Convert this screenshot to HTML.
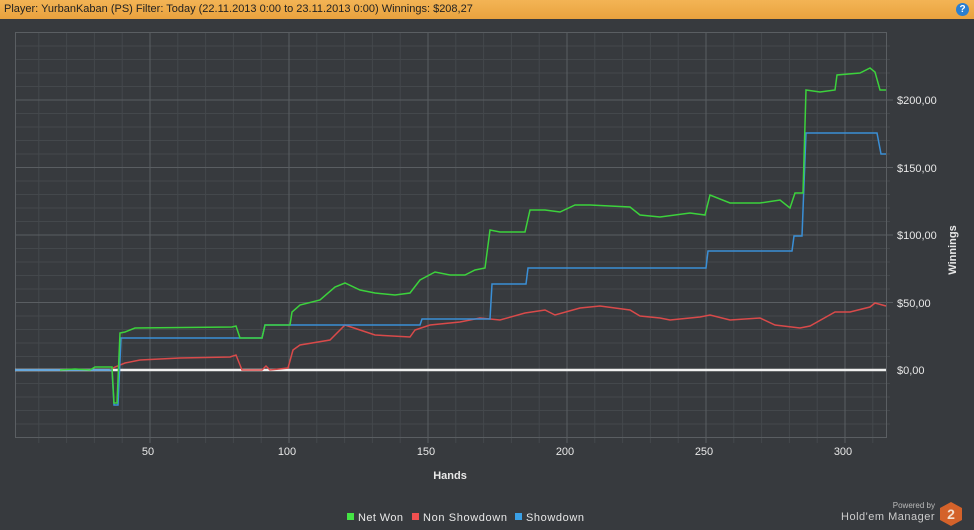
<!DOCTYPE html>
<html><head><meta charset="utf-8"><style>
body{margin:0;width:974px;height:530px;background:#373a3e;overflow:hidden;font-family:"Liberation Sans",sans-serif}
.bar{position:absolute;left:0;top:0;width:974px;height:19px;background:linear-gradient(#f3b455,#e9a23e);color:#222;font-size:11px;line-height:18px;padding-left:4px;box-sizing:border-box}
.help{position:absolute;right:5px;top:3px;width:13px;height:13px;border-radius:50%;background:#2a7fd0;color:#fff;font-size:10px;font-weight:bold;text-align:center;line-height:13px}
</style></head><body>
<div class="bar">Player: YurbanKaban (PS) Filter: Today (22.11.2013 0:00 to 23.11.2013 0:00) Winnings: $208,27</div>
<div class="help">?</div>
<svg width="974" height="530" style="position:absolute;left:0;top:0" font-family="Liberation Sans, sans-serif">
<g stroke="#44484c" stroke-width="1">
<path d="M38.8 33V443M66.6 33V443M94.4 33V443M122.2 33V443M177.8 33V443M205.6 33V443M233.4 33V443M261.2 33V443M316.8 33V443M344.6 33V443M372.4 33V443M400.2 33V443M455.8 33V443M483.6 33V443M511.4 33V443M539.2 33V443M594.8 33V443M622.6 33V443M650.4 33V443M678.2 33V443M733.8 33V443M761.6 33V443M789.4 33V443M817.2 33V443M872.8 33V443"/>
<path d="M15 424H890M15 410.5H890M15 397H890M15 383.5H890M15 356.5H890M15 343H890M15 329.5H890M15 316H890M15 289H890M15 275.5H890M15 262H890M15 248.5H890M15 221.5H890M15 208H890M15 194.5H890M15 181H890M15 154H890M15 140.5H890M15 127H890M15 113.5H890M15 86.5H890M15 73H890M15 59.5H890M15 46H890"/>
</g>
<g stroke="#5a5e62" stroke-width="1">
<path d="M150 33V443M289 33V443M428 33V443M567 33V443M706 33V443M845 33V443"/>
<path d="M15 302.5H893M15 235H893M15 167.5H893M15 100H893"/>
<rect x="15.5" y="32.5" width="871" height="405" fill="none"/>
</g>
<line x1="15" y1="370" x2="886" y2="370" stroke="#f0f0f0" stroke-width="2.5"/>
<polyline fill="none" stroke="#d94a4a" stroke-width="1.5" points="110,370 115,367 125,363 140,360 180,358 230,357 236,355 242,370 262,370 266,366 270,370 288,368 293,350 300,345 330,340 345,325 360,330 375,335 410,337 415,330 430,325 460,322 480,318 500,320 525,313 545,310 555,315 580,308 600,306 630,310 640,316 660,318 670,320 700,317 710,315 730,320 760,318 775,325 800,328 810,326 835,312 850,312 870,307 875,303 886,306"/>
<polyline fill="none" stroke="#3a8fd6" stroke-width="1.5" points="15,370 112,370 114,405 118,405 121,338 232,338 262,338 265,325 420,325 422,319 490,319 492,284 526,284 528,268 706,268 708,251 792,251 794,236 802,236 806,133 877,133 881,154 886,154"/>
<polyline fill="none" stroke="#3cd23c" stroke-width="1.5" points="60,370 75,369 90,370 95,367 112,367 114,403 117,403 120,333 125,332 135,328 232,327 236,326 240,338 262,338 265,325 290,325 292,312 300,305 320,300 335,287 345,283 360,290 375,293 395,295 410,293 420,280 435,272 450,275 465,275 475,270 485,268 490,230 500,232 525,232 530,210 545,210 560,212 575,205 590,205 630,207 640,215 660,217 690,213 705,215 710,195 730,203 760,203 780,200 790,208 795,193 803,193 806,90 820,92 835,90 837,75 860,73 870,68 875,72 880,90 886,90"/>
<g fill="#e8e8e8" font-size="11">
<text x="148" y="455" text-anchor="middle">50</text><text x="287" y="455" text-anchor="middle">100</text><text x="426" y="455" text-anchor="middle">150</text><text x="565" y="455" text-anchor="middle">200</text><text x="704" y="455" text-anchor="middle">250</text><text x="843" y="455" text-anchor="middle">300</text>
<text x="897" y="104">$200,00</text><text x="897" y="172">$150,00</text><text x="897" y="239">$100,00</text><text x="897" y="307">$50,00</text><text x="897" y="374">$0,00</text>
<text x="450" y="479" text-anchor="middle" font-weight="bold">Hands</text>
<text transform="translate(956,250) rotate(-90)" text-anchor="middle" font-weight="bold">Winnings</text>
<text x="358" y="521" textLength="45">Net Won</text><text x="423" y="521" textLength="84">Non Showdown</text><text x="526" y="521" textLength="58">Showdown</text>
</g>
<rect x="347" y="513" width="7" height="7" fill="#44e444"/><rect x="412" y="513" width="7" height="7" fill="#f05050"/><rect x="515" y="513" width="7" height="7" fill="#3aa0e6"/>
<text x="935" y="508" fill="#bbb" font-size="8" text-anchor="end">Powered by</text>
<text x="935" y="520" fill="#ccc" font-size="11" text-anchor="end" letter-spacing="0.5">Hold'em Manager</text>
<polygon points="951,502 962,508 962,520 951,526 940,520 940,508" fill="#d4622a"/>
<text x="951" y="519" fill="#f3e0d0" font-size="14" font-weight="bold" text-anchor="middle">2</text>
</svg>
</body></html>
